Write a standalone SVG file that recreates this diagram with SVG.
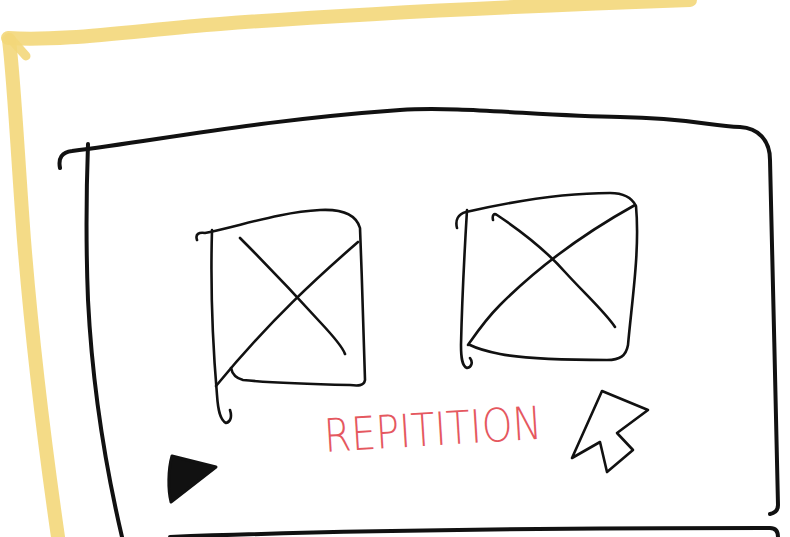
<svg xmlns="http://www.w3.org/2000/svg" width="790" height="537" viewBox="0 0 790 537">
<style>
.ink{fill:none;stroke:#111;stroke-linecap:round;stroke-linejoin:round}
.thick{stroke-width:4}
.thin{stroke-width:2.6}
.hl{fill:none;stroke:#f3d77a;stroke-width:14;stroke-linecap:round;stroke-linejoin:round;opacity:0.9}
.lbl{fill:#e5585f;font-family:"DejaVu Sans","Liberation Sans",sans-serif;font-weight:300;font-size:46px}
</style>
<rect width="790" height="537" fill="#fff"/>
<g id="frame">
<path class="hl" d="M8,38 C60,42 140,30 220,24 C350,14 520,6 690,0"/>
<path class="hl" d="M9,40 C14,80 18,160 24,240 C32,340 44,440 58,537"/>
<path class="hl" d="M10,38 L26,56" style="stroke-width:9"/>
</g>
<g id="window">
<path class="ink thick" d="M60,168 C58,158 62,152 72,151 C160,140 260,120 400,110 C460,106 540,116 620,117 C690,118 710,126 740,127 C758,128 770,140 770,160 C772,260 776,400 778,505 C778,510 775,513 770,514"/>
<path class="ink thick" d="M88,144 C86,200 86,250 88,300 C92,380 104,460 122,537"/>
<path class="ink thick" d="M170,537 C300,532 500,528 770,528 C775,528 778,531 778,537"/>
</g>
<g id="image1">
<path class="ink thin" d="M197,240 C195,234 199,232 205,233 C240,226 280,212 320,210 C340,209 356,214 360,228 C362,280 364,340 365,380 C364,386 358,386 350,385 C300,384 262,382 243,380 C235,378 232,373 231,368"/>
<path class="ink thin" d="M212,230 C210,300 214,360 217,395 C218,410 220,420 226,423 C231,422 232,416 230,410"/>
<path class="ink thin" d="M240,238 C280,278 300,300 320,322 C335,338 343,348 345,354"/>
<path class="ink thin" d="M358,242 C320,275 270,320 216,386"/>
</g>
<g id="image2">
<path class="ink thin" d="M457,228 C455,220 458,214 466,212 C510,202 560,193 610,193 C624,193 632,198 636,206 C640,250 632,300 628,345 C626,356 620,360 607,360 C560,360 520,358 500,354 C485,351 476,348 470,345"/>
<path class="ink thin" d="M467,210 C464,260 462,300 461,345 C461,358 462,366 467,368 C472,367 473,362 470,358"/>
<path class="ink thin" d="M493,220 C492,215 494,213 497,215 C530,237 550,255 565,272 C585,294 605,312 615,327"/>
<path class="ink thin" d="M635,205 C590,230 540,265 500,305 C485,320 475,335 468,345"/>
</g>
<g id="label">
<text class="lbl" x="325" y="452" textLength="218" lengthAdjust="spacingAndGlyphs" transform="rotate(-3.5 325 452)">REPITITION</text>
</g>
<g id="cursor">
<path class="ink thin" d="M602,391 L648,410 L617,433 L633,450 L607,472 L600,442 L572,458 Z"/>
</g>
<g id="pointer">
<path d="M172,456 L216,467 L171,502 C168,490 168,470 172,456 Z" fill="#111" stroke="#111" stroke-width="3" stroke-linejoin="round"/>
</g>
</svg>
